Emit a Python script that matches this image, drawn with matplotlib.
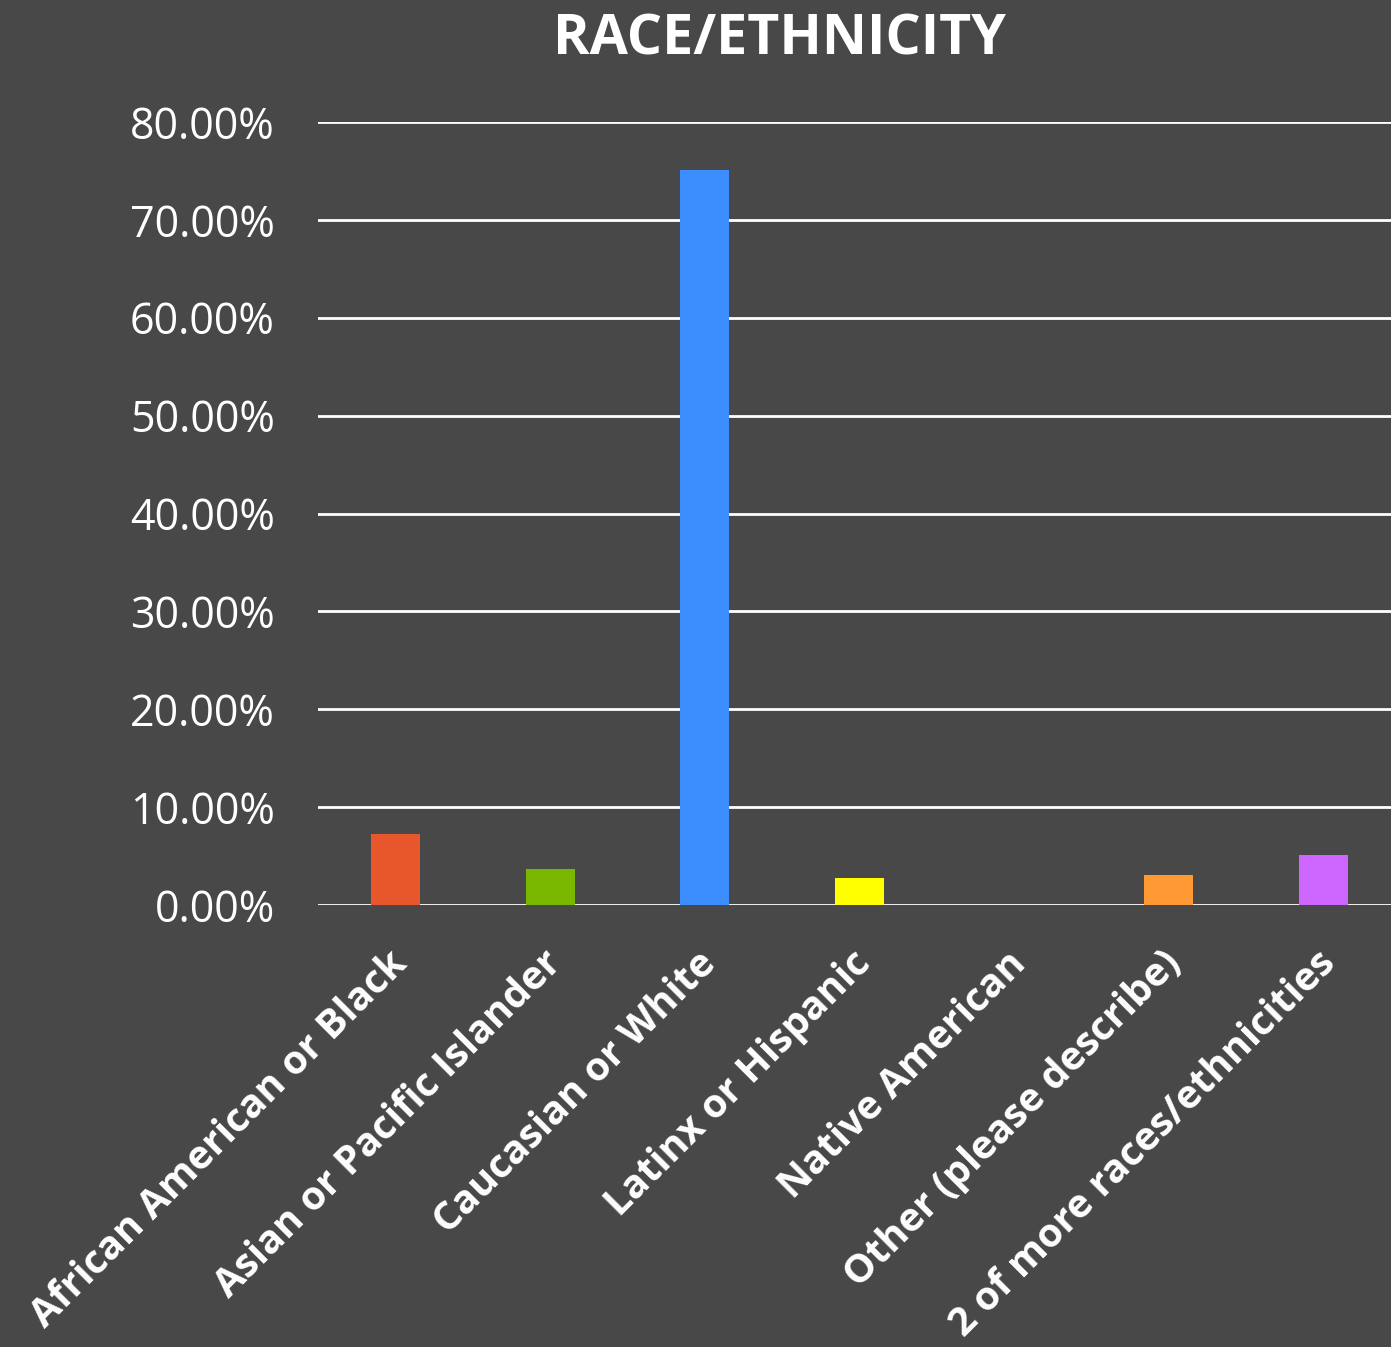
import matplotlib.pyplot as plt
import matplotlib.transforms as mtransforms
from matplotlib.ticker import FuncFormatter

categories = ["African American or Black", "Asian or Pacific Islander",
              "Caucasian or White", "Latinx or Hispanic", "Native American",
              "Other (please describe)", "2 of more races/ethnicities"]
values = [7.3, 3.65, 75.1, 2.8, 0.0, 3.1, 5.15]
colors = ["#E8572B", "#7AB800", "#3C8EFF", "#FFFF00", "#7030A0", "#FF9933", "#CC66FF"]

bg = "#484848"
plt.rcParams['font.family'] = ['Open Sans', 'DejaVu Sans']

fig = plt.figure(figsize=(13.91, 13.47), dpi=100, facecolor=bg)
ax = fig.add_axes([318/1391, 1 - 905/1347, (1401-318)/1391, (905-122)/1347])
ax.set_facecolor(bg)

x = range(len(categories))
ax.bar(x, values, width=0.317, color=colors, zorder=3)

ax.set_xlim(-0.5, len(categories) - 0.5)
ax.set_ylim(0, 80)
ax.set_yticks(range(0, 81, 10))
ax.yaxis.set_major_formatter(FuncFormatter(lambda v, p: f"{v:.2f}%"))
ax.grid(axis='y', color='white', linewidth=2, zorder=1)
ax.set_axisbelow(True)
for s in ax.spines.values():
    s.set_visible(False)
ax.tick_params(axis='both', length=0, colors='white')
ax.tick_params(axis='y', labelsize=31, pad=31)
ax.set_xticks(list(x))
ax.set_xticklabels(categories, rotation=45, ha='right', rotation_mode='anchor',
                   fontsize=28.5, fontweight='bold', color='white')
ax.tick_params(axis='x', pad=28)
shift = mtransforms.ScaledTranslation(-0.08, 0, fig.dpi_scale_trans)
for lab in ax.get_xticklabels():
    lab.set_transform(lab.get_transform() + shift)

fig.text(0.56, 1 - 40/1347, "RACE/ETHNICITY", ha='center', va='center',
         fontsize=40, fontweight='bold', color='white')

fig.savefig("out.png", dpi=100, facecolor=bg)
